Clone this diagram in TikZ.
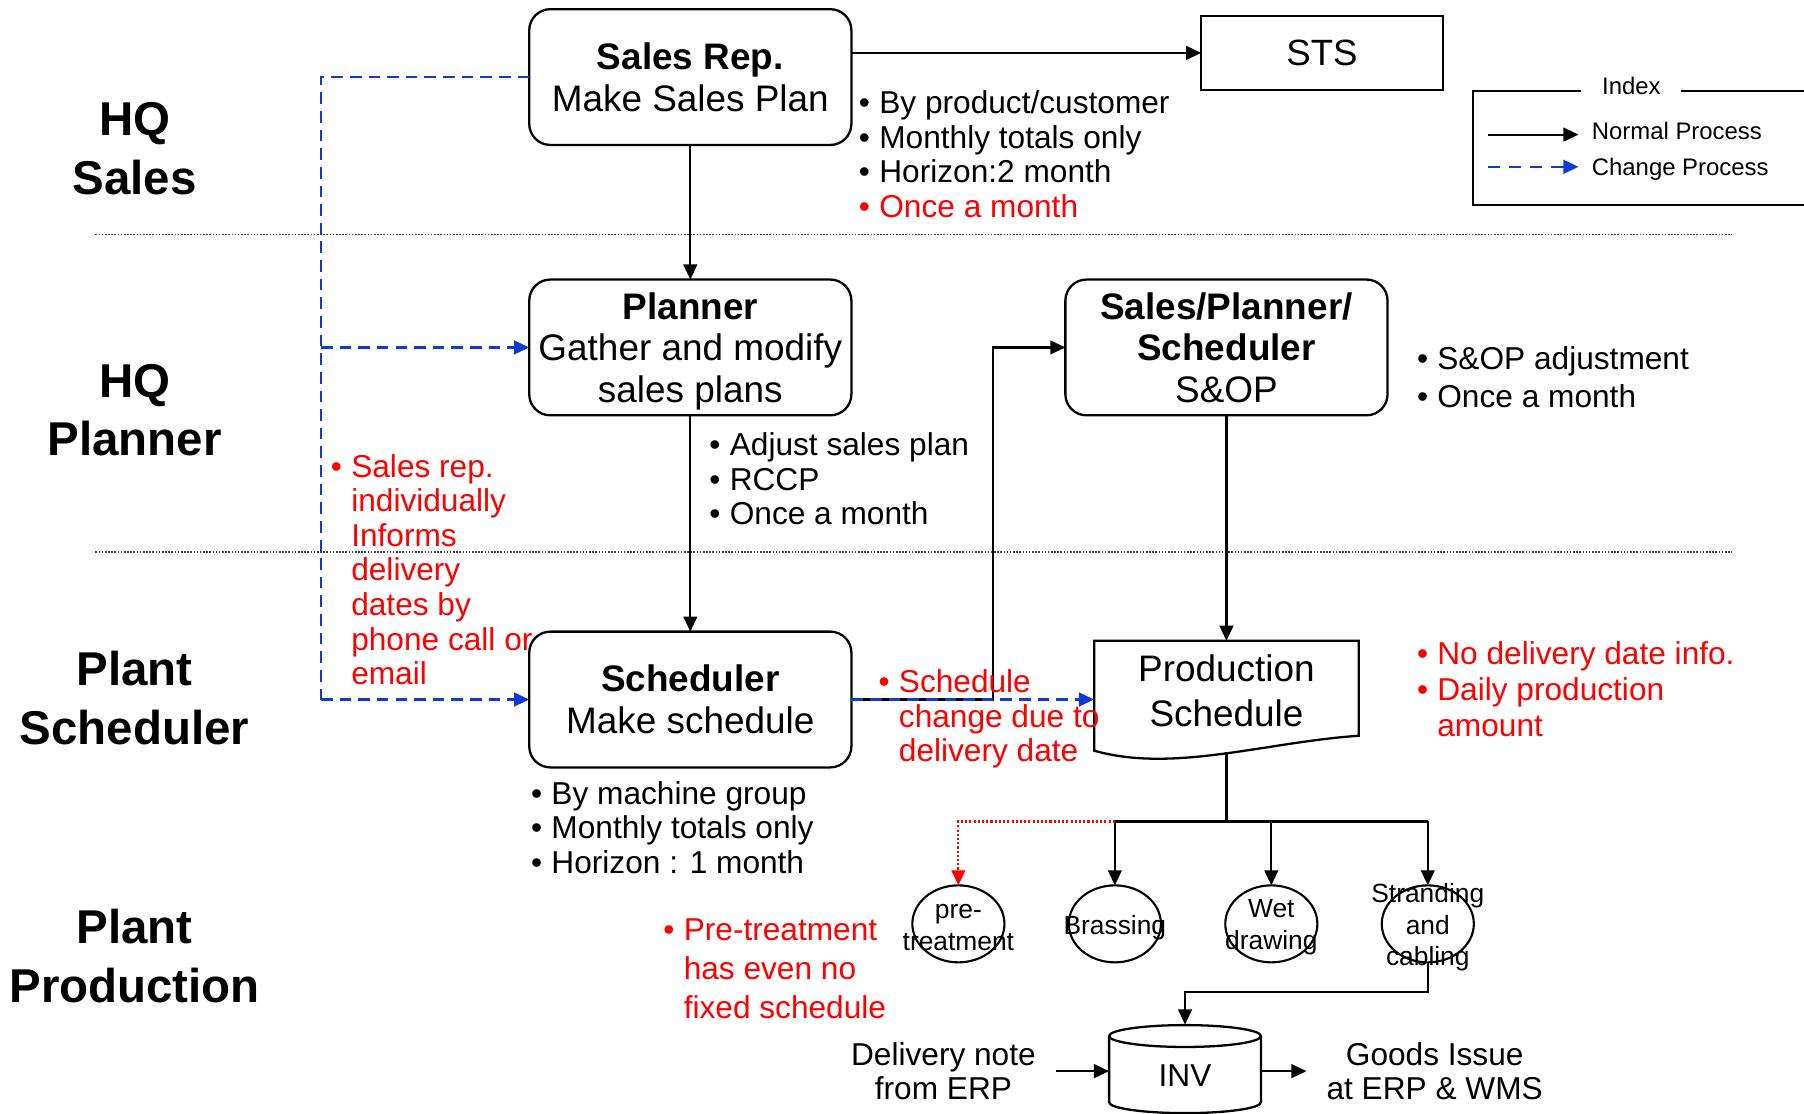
\documentclass[tikz,border=0pt]{standalone}
\usepackage{fontspec}
\setmainfont{Liberation Sans}
\usetikzlibrary{arrows.meta,shapes.geometric,calc}
\definecolor{chgblue}{RGB}{16,56,216}
\definecolor{notered}{RGB}{255,0,0}
\newcommand\bul{\makebox[5.8pt][l]{•}}
\newcommand\ind{\hspace*{5.8pt}}
\newcommand\nodepth[1]{\raisebox{0pt}[\height][0pt]{#1}}

\begin{document}
\begin{tikzpicture}[x=0.32727pt,y=-0.32727pt,
  headed/.style={-{Triangle[length=4.3pt,width=3.9pt]}},
  flow/.style={draw=black,line width=0.6pt,headed},
  plain/.style={draw=black,line width=0.6pt},
  chg/.style={draw=chgblue,line width=0.65pt,dash pattern=on 3.3pt off 2pt,headed},
  chgline/.style={draw=chgblue,line width=0.65pt,dash pattern=on 3.3pt off 2pt},
  redflow/.style={draw=notered,line width=0.6pt,dash pattern=on 0.6pt off 0.6pt,headed},
  lane/.style={draw=black!75,line width=0.45pt,dash pattern=on 0.45pt off 0.45pt},
  role/.style={draw,line width=0.65pt,rounded corners=6pt,minimum width=91.64pt,
    minimum height=38.62pt,outer sep=0pt,inner sep=0pt,align=center,
    font=\fontsize{10.5}{11.8}\selectfont},
  lanelabel/.style={align=center,inner sep=0pt,font=\fontsize{13.5}{16.7}\selectfont\bfseries},
  % anchor=base puts the last line of a list on its coordinate
  notes/.style={anchor=base west,align=left,inner sep=0pt,font=\fontsize{9}{9.82}\selectfont},
  proc/.style={draw,ellipse,line width=0.6pt,minimum width=26.2pt,minimum height=21.9pt,
    inner sep=0pt,outer sep=0pt},
  proctext/.style={align=center,inner sep=0pt,yshift=-1pt,font=\fontsize{7.5}{9}\selectfont},
  legendtext/.style={anchor=base west,inner sep=0pt,font=\fontsize{6.8}{8}\selectfont},
  endtext/.style={align=center,inner xsep=5.5pt,inner ysep=0pt,font=\fontsize{9}{9.82}\selectfont}]

\useasboundingbox (0,0) rectangle (1568,968);

% swimlane separators
\draw[lane] (83,204) -- (1505,204);
\draw[lane] (83,480) -- (1505,480);

% lane titles
\node[lanelabel] (hqs) at (117,129.5) {HQ\\Sales};
\node[lanelabel] (hqp) at (117,356.5) {HQ\\Planner};
\node[lanelabel] (pls) at (117,606.5) {Plant\\Scheduler};
\node[lanelabel] (plp) at (117,831) {Plant\\Production};

% role boxes
\node[role] (sr) at (600,67) {\textbf{Sales Rep.}\\Make Sales Plan};
\node[role] (pl) at (600,302) {\textbf{Planner}\\Gather and modify\\\nodepth{sales plans}};
\node[role] (sop) at (1066,302) {\textbf{Sales/Planner/}\\\textbf{Scheduler}\\S\&OP};
\node[role] (sc) at (600,608) {\textbf{Scheduler}\\Make schedule};
\node[draw,line width=0.65pt,minimum width=68.7pt,minimum height=20.9pt,inner sep=0pt,
  outer sep=0pt,font=\fontsize{10.4}{12}\selectfont] (sts) at (1149,46) {STS};

% production schedule (document shape)
\draw[line width=0.65pt] (951,557) -- (1181,557) -- (1181,639.5)
  .. controls (1100,645) and (1020,672) .. (951,652.5) -- cycle;
\node[minimum width=75.3pt,minimum height=28.5pt,inner sep=0pt,outer sep=0pt,align=center,
  font=\fontsize{10.5}{12.8}\selectfont] (ps) at (1066,600.5) {Production\\Schedule};
\coordinate (psb) at (1066,654);

% process steps
\node[proc] (c1) at (833,803) {};
\node[proc] (c2) at (969,803) {};
\node[proc] (c3) at (1105,803) {};
\node[proc] (c4) at (1241,803) {};
\node[proctext] (t1) at (c1) {pre-\\treatment};
\node[proctext] (t2) at (c2) {Brassing};
\node[proctext] (t3) at (c3) {Wet\\drawing};
\node[proctext] (t4) at (c4) {Stranding\\and\\cabling};

% inventory cylinder
\node[minimum width=43.2pt,minimum height=29.1pt,inner sep=0pt,outer sep=0pt,
  font=\fontsize{9}{10}\selectfont] (inv) at (1030,935) {INV};
\draw[line width=0.65pt] (1030,900.5) ellipse [x radius=66,y radius=9.5];
\draw[line width=0.65pt] (964,900.5) -- (964,958)
  arc[start angle=180,end angle=0,x radius=66,y radius=9.5] -- (1096,900.5);

\node[endtext] (dn) at (820,931) {Delivery note\\from ERP};
\node[endtext] (gi) at (1247,931) {Goods Issue\\at ERP \& WMS};

% normal flow
\draw[flow] (sts.west -| sr.east) -- (sts.west);
\draw[flow] (sr.south) -- (pl.north);
\draw[flow] (pl.south) -- (sc.north);
\coordinate (jog) at (863,608);
\draw[flow] (sc.east) -- (jog) |- (sop.west);
\draw[flow] (sop.south) -- (ps.north);
\coordinate (split) at (1066,714);
\draw[plain] (psb) -- (split);
\draw[plain] (c2.north |- split) -- (c4.north |- split);
\draw[flow] (c2.north |- split) -- (c2.north);
\draw[flow] (c3.north |- split) -- (c3.north);
\draw[flow] (c4.north |- split) -- (c4.north);
\draw[redflow] (c2.north |- split) -- (c1.north |- split) -- (c1.north);
\coordinate (bend) at (1241,862);
\draw[flow] (c4.south) -- (bend) -| (inv.north);
\draw[flow] (dn.east) -- (dn.east -| inv.west);
\draw[flow] (inv.east |- gi.west) -- (gi.west);

% change flow
\coordinate (bv) at (279,67);
\draw[chgline] (sr.west) -- (bv) -- (bv |- sc.west);
\draw[chg] (bv |- pl.west) -- (pl.west);
\draw[chg] (bv |- sc.west) -- (sc.west);
\draw[chg] (sc.east) -- (sc.east -| ps.west);

% notes
\node[notes] (n1) at (746,189) {\bul By product/customer\\\bul Monthly totals only\\
  \bul Horizon:2 month\\{\color{notered}\bul Once a month}};
\node[notes] (n2) at (616,456) {\bul Adjust sales plan\\\bul RCCP\\\bul Once a month};
\node[notes,font=\fontsize{9}{10.8}\selectfont] (n3) at (1231,354)
  {\bul S\&OP adjustment\\\bul Once a month};
\node[notes] (n4) at (461,759) {\bul By machine group\\\bul Monthly totals only\\
  \bul Horizon : 1 month};
\node[notes,text=notered] (r1) at (287,595) {\bul Sales rep.\\\ind individually\\\ind Informs\\
  \ind delivery\\\ind dates by\\\ind phone call or\\\ind email};
\node[notes,text=notered] (r2) at (763,662) {\bul Schedule\\\ind change due to\\\ind delivery date};
\node[notes,text=notered,font=\fontsize{9}{10.15}\selectfont] (r3) at (1231,640)
  {\bul No delivery date info.\\\bul Daily production\\\ind amount};
\node[notes,text=notered,font=\fontsize{9}{11}\selectfont] (r4) at (576,885)
  {\bul Pre-treatment\\\ind has even no\\\ind fixed schedule};

% legend
\draw[line width=0.65pt] (1568,79) -- (1280,79) -- (1280,178) -- (1568,178);
\node[fill=white,inner xsep=5.9pt,inner ysep=1.5pt,font=\fontsize{6.8}{8}\selectfont]
  (idx) at (1418,75) {Index};
\coordinate (la1) at (1293,117);
\coordinate (lb1) at (1372,117);
\coordinate (la2) at (1293,145);
\coordinate (lb2) at (1372,145);
\draw[flow] (la1) -- (lb1);
\draw[chg,dash pattern=on 3.6pt off 2.4pt] (la2) -- (lb2);
\node[legendtext] (lg1) at (1383,121.5) {Normal Process};
\node[legendtext] (lg2) at (1383,152.5) {Change Process};
\end{tikzpicture}
\end{document}
